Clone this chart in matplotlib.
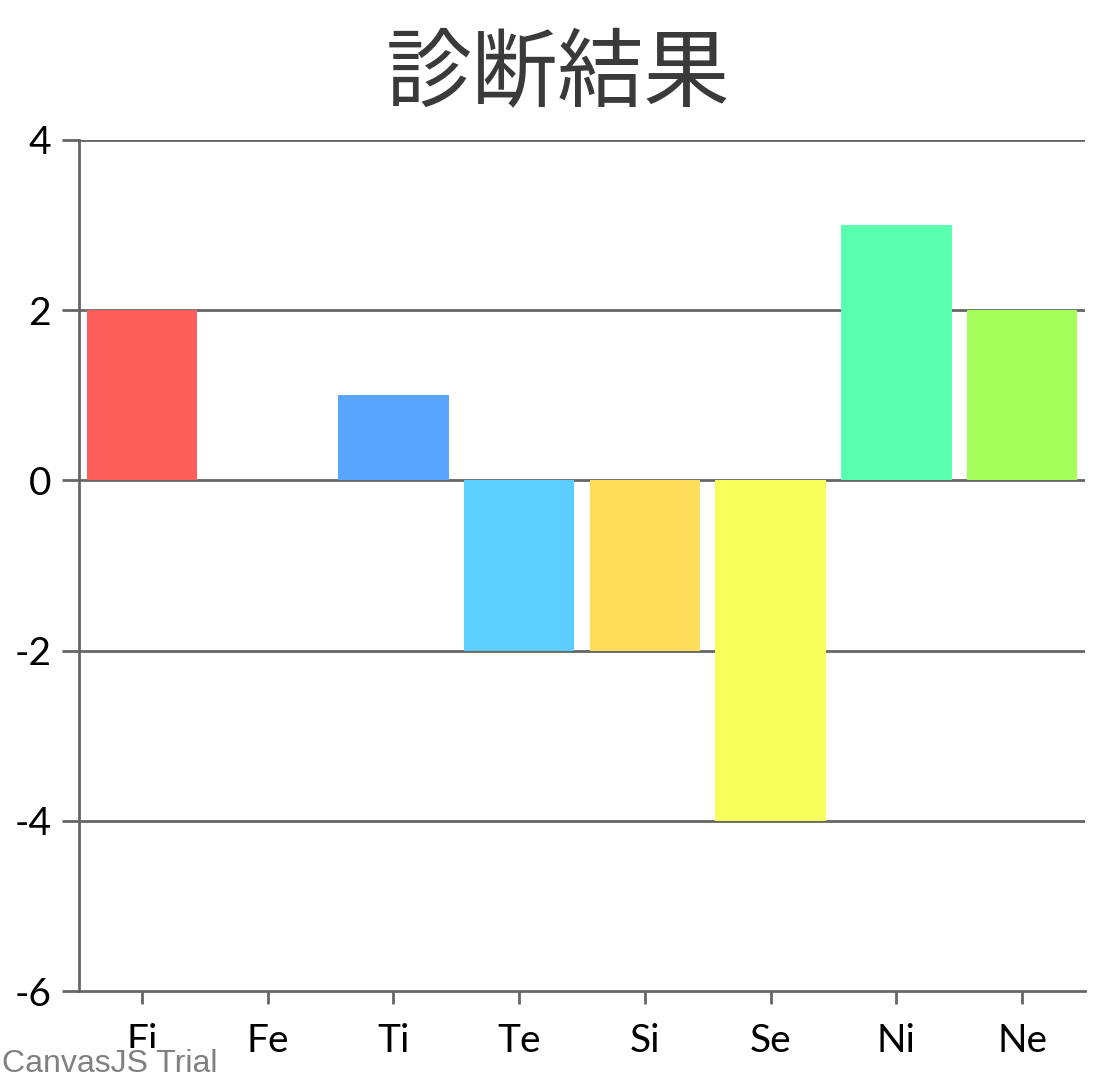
import matplotlib
matplotlib.use("Agg")
import matplotlib.pyplot as plt

categories = ["Fi", "Fe", "Ti", "Te", "Si", "Se", "Ni", "Ne"]
values = [2, 0, 1, -2, -2, -4, 3, 2]
bar_colors = ["#FF5F5B", "#FFFFFF", "#5AA5FF", "#5BCDFF", "#FFDE5B", "#F7FF5B", "#5BFFB0", "#A5FF5B"]
y_ticks = [-6, -4, -2, 0, 2, 4]

plt.rcParams['font.family'] = ['Lato', 'DejaVu Sans']

fig = plt.figure(figsize=(11.16, 10.8), dpi=100)
# axes box: x 79..1085, y 140..991 (pixels)
ax = fig.add_axes([79 / 1116, 1 - 991 / 1080, (1085 - 79) / 1116, (991 - 140) / 1080])

axis_col = "#666666"
for y in y_ticks[1:]:
    ax.axhline(y, color=axis_col, lw=2, zorder=1)

ax.bar(range(len(categories)), values, width=0.88, color=bar_colors, zorder=2)

ax.set_xlim(-0.5, len(categories) - 0.5)
ax.set_ylim(-6, 4)
ax.set_yticks(y_ticks)
ax.set_yticklabels([str(v) for v in y_ticks])
ax.set_xticks(range(len(categories)))
ax.set_xticklabels(categories)

for side in ["top", "right"]:
    ax.spines[side].set_visible(False)
for side in ["left", "bottom"]:
    ax.spines[side].set_color(axis_col)
    ax.spines[side].set_linewidth(2)

ax.tick_params(axis="y", length=12, width=2, color=axis_col, labelsize=28, pad=8)
ax.tick_params(axis="x", length=9, width=2, color=axis_col, labelsize=28, pad=14)

fig.text(0.5, 1 - 75 / 1080, "診断結果", ha="center", va="center", fontsize=62,
         color="#3A3A3A", family=["Noto Sans CJK JP", "DejaVu Sans"])

fig.text(2 / 1116, 1 - 1064 / 1080, "CanvasJS Trial", ha="left", va="center", fontsize=23,
         color="#808080", family=["Liberation Sans", "DejaVu Sans"],
         bbox=dict(facecolor="white", edgecolor="none", pad=1))

fig.savefig("out.png", dpi=100)
